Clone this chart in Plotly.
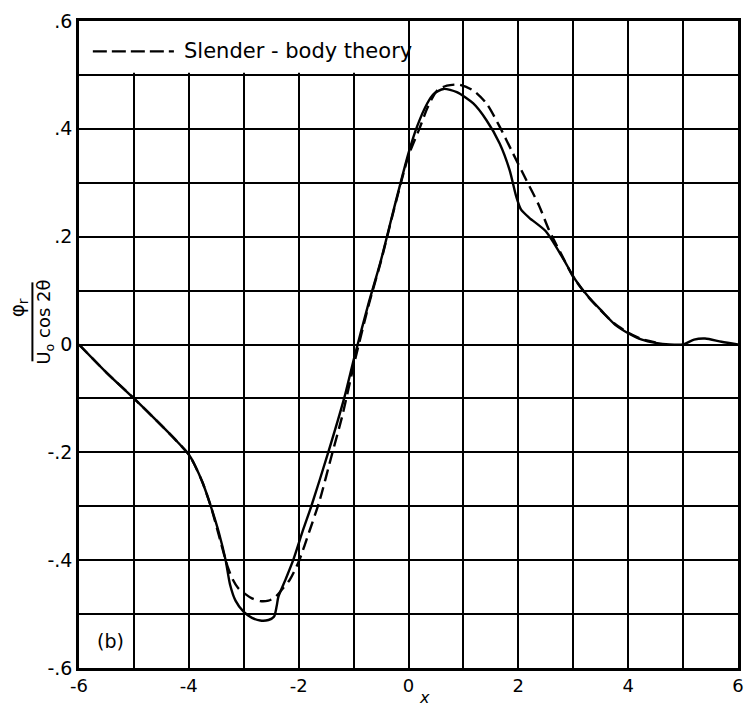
import plotly.graph_objects as go

# measured curve (solid)
x_meas = [-6.0, -5.5, -5.0, -4.5, -4.25, -4.0, -3.9, -3.75, -3.6, -3.45, -3.33, -3.25, -3.15, -3.0,
          -2.85, -2.7, -2.55, -2.45, -2.4, -2.37, -2.24, -2.1, -1.92, -1.77, -1.47,
          -1.17, -0.99, -0.72, -0.51, -0.27, 0.0, 0.155, 0.34, 0.46, 0.64, 0.88, 1.18,
          1.42, 1.66, 1.84, 1.96, 2.05, 2.2, 2.5, 2.8, 3.04, 3.28, 3.53, 3.77, 4.0,
          4.25, 4.5, 4.75, 5.0, 5.2, 5.4, 5.7, 6.0]
y_meas = [0.0, -0.052, -0.1, -0.15, -0.176, -0.204, -0.222, -0.256, -0.3, -0.35, -0.4, -0.445, -0.475, -0.496,
          -0.507, -0.512, -0.511, -0.505, -0.485, -0.468, -0.436, -0.4, -0.344, -0.3, -0.203,
          -0.099, -0.025, 0.079, 0.153, 0.25, 0.355, 0.404, 0.447, 0.465, 0.474, 0.468, 0.447,
          0.416, 0.373, 0.324, 0.275, 0.25, 0.235, 0.21, 0.162, 0.12, 0.088, 0.061, 0.036, 0.021,
          0.009, 0.003, 0.0, 0.0, 0.009, 0.011, 0.005, 0.0]

# slender-body theory (dashed)
x_theory = [-6.0, -5.5, -5.0, -4.5, -4.25, -4.0, -3.9, -3.75, -3.6, -3.45, -3.3, -3.2, -3.1, -2.97,
            -2.85, -2.7, -2.55, -2.43, -2.3, -2.16, -2.0, -1.8, -1.62, -1.41, -1.2, -1.0,
            -0.72, -0.5, -0.27, 0.0, 0.19, 0.35, 0.52, 0.7, 0.92, 1.18, 1.42, 1.66, 1.9,
            2.14, 2.38, 2.56, 2.8, 3.0, 3.25, 3.5, 3.75, 4.0, 4.25, 4.5]
y_theory = [0.0, -0.052, -0.1, -0.15, -0.176, -0.204, -0.222, -0.256, -0.3, -0.355, -0.41, -0.436, -0.452, -0.463,
            -0.471, -0.476, -0.475, -0.469, -0.454, -0.436, -0.403, -0.345, -0.29, -0.21, -0.13, -0.04,
            0.075, 0.155, 0.248, 0.35, 0.398, 0.44, 0.471, 0.48, 0.482, 0.471, 0.447, 0.404, 0.355,
            0.306, 0.257, 0.212, 0.164, 0.125, 0.091, 0.063, 0.039, 0.022, 0.01, 0.004]

x_ticks = [-6, -4, -2, 0, 2, 4, 6]
x_ticktext = ["-6", "-4", "-2", "0", "2", "4", "6"]
y_ticks = [-0.6, -0.4, -0.2, 0, 0.2, 0.4, 0.6]
y_ticktext = ["-.6", "-.4", "-.2", "0", ".2", ".4", ".6"]

fig = go.Figure()
fig.add_trace(go.Scatter(x=x_meas, y=y_meas, mode="lines", name="Experiment",
                         line=dict(color="black", width=2.4, shape="spline", smoothing=0.7),
                         showlegend=False))
fig.add_trace(go.Scatter(x=x_theory, y=y_theory, mode="lines", name="Slender - body theory",
                         line=dict(color="black", width=2.4, dash="12px,6px", shape="spline", smoothing=0.7),
                         showlegend=False))

grid = dict(showgrid=True, gridcolor="black", gridwidth=2)
fig.update_xaxes(range=[-6, 6], tickvals=x_ticks, ticktext=x_ticktext, zeroline=False,
                 showline=True, linecolor="black", linewidth=2.5, mirror=True,
                 tickfont=dict(size=18), minor=dict(dtick=1, **grid), **grid)
fig.update_yaxes(range=[-0.6, 0.6], tickvals=y_ticks, ticktext=y_ticktext, zeroline=False,
                 showline=True, linecolor="black", linewidth=2.5, mirror=True,
                 tickfont=dict(size=19), minor=dict(dtick=0.1, **grid), **grid)

# legend box (white patch over the grid) with a dashed sample
fig.add_shape(type="rect", xref="x", yref="y", x0=-6, x1=-0.06, y0=0.504, y1=0.6,
              fillcolor="white", line_width=0, layer="between")
fig.add_shape(type="line", xref="paper", yref="paper", x0=0.021, x1=0.144, y0=0.953, y1=0.953,
              line=dict(color="black", width=2.4, dash="14px,5px"))
fig.add_annotation(xref="paper", yref="paper", x=0.156, y=0.953, xanchor="left", yanchor="middle",
                   text="Slender - body theory", showarrow=False, font=dict(size=21))

fig.add_annotation(x=-5.43, y=-0.55, text="(b)", showarrow=False, font=dict(size=19))
fig.add_annotation(x=0.3, xref="x", y=-0.046, yref="paper", yanchor="middle", text="<i>x</i>",
                   showarrow=False, font=dict(size=16))

# y-axis label as a fraction
fig.add_annotation(xref="paper", yref="paper", x=-0.093, y=0.557, xanchor="center", yanchor="middle",
                   textangle=-90, text="φ<sub>r</sub>", showarrow=False, font=dict(size=20))
fig.add_shape(type="line", xref="paper", yref="paper", x0=-0.0707, x1=-0.0707, y0=0.474, y1=0.596,
              line=dict(color="black", width=2))
fig.add_annotation(xref="paper", yref="paper", x=-0.052, y=0.535, xanchor="center", yanchor="middle",
                   textangle=-90, text="U<sub>o</sub> cos 2θ", showarrow=False, font=dict(size=18))

fig.update_layout(width=754, height=711, margin=dict(l=79, r=10, t=15, b=43),
                  plot_bgcolor="white", paper_bgcolor="white",
                  font=dict(family="DejaVu Sans", size=18, color="black"))

fig.write_html("out.html", config={"displayModeBar": False},
               post_script="document.body.style.margin='0px';")
